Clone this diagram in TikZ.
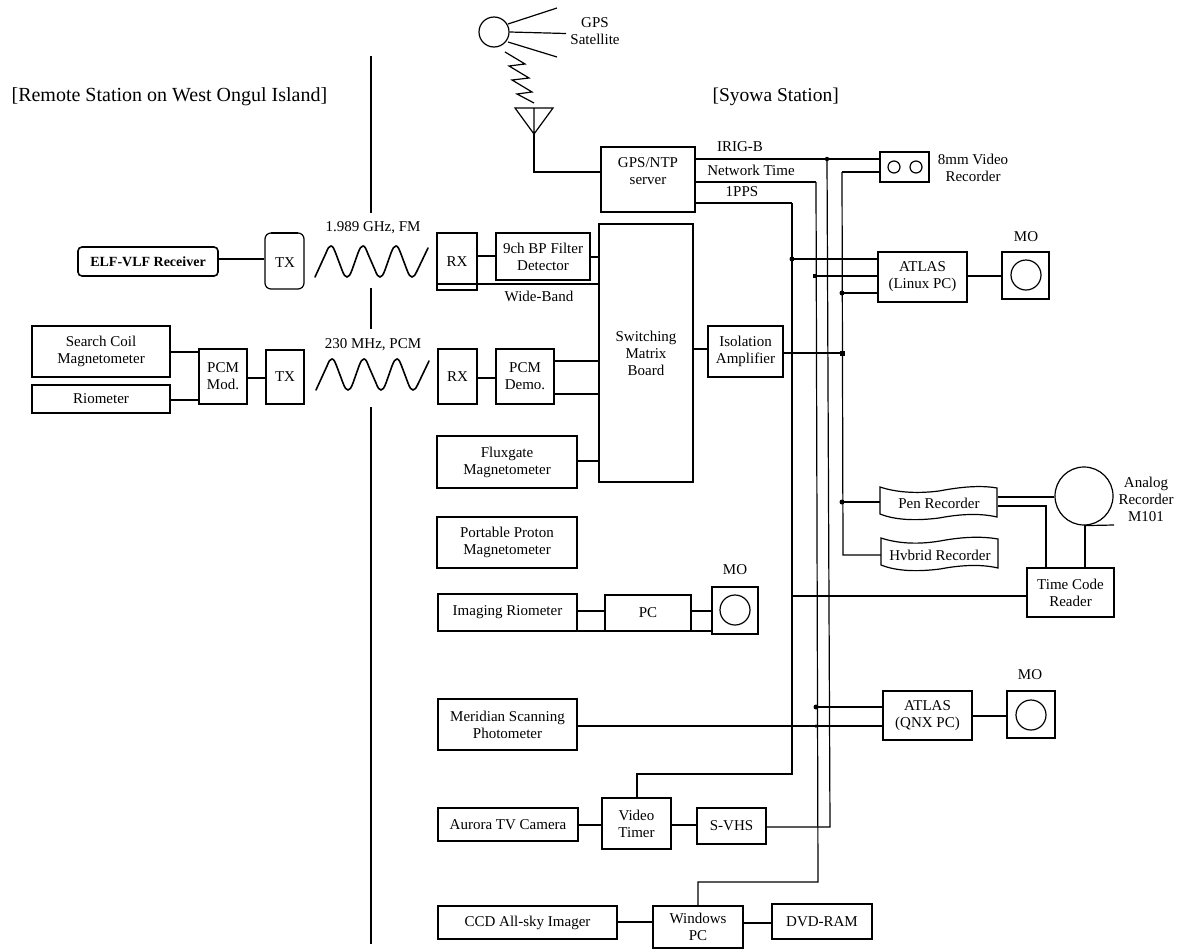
\documentclass[tikz,border=0pt]{standalone}
\usepackage{fontspec}
\setmainfont{Liberation Serif}
\tikzset{
  x=1pt,y=-1pt,
  every path/.style={line width=1.2pt,line join=miter},
  box/.style={draw,inner sep=0pt,align=center,font=\fontsize{15}{17}\selectfont},
  plain/.style={inner sep=0pt,align=center,font=\fontsize{15}{17}\selectfont},
  ttl/.style={inner sep=0pt,font=\fontsize{19.5}{22}\selectfont},
  dot/.style={circle,fill,inner sep=0pt,minimum size=5pt},
  wave/.style={draw,line width=1.6pt,line cap=round},
}
% \bx{name}{x1}{y1}{x2}{y2}{text}
\newcommand{\bx}[6]{%
  \pgfmathsetmacro{\bw}{#4-#2}\pgfmathsetmacro{\bh}{#5-#3}%
  \pgfmathsetmacro{\bcx}{(#2+#4)/2}\pgfmathsetmacro{\bcy}{(#3+#5)/2}%
  \node[box,minimum width=\bw pt,minimum height=\bh pt] (#1) at (\bcx,\bcy) {};%
  \ifx&#6&\else\node[plain] (#1t) at (\bcx,\bcy) {#6};\fi}
\newcommand{\sinewave}[2]{% start x, bottom y
  \begin{scope}[shift={(#1,#2)}]
  \draw[wave] (0,0)
    -- (11,-24) .. controls (13,-29) and (14,-31) .. (16,-31)
    .. controls (18,-31) and (19,-28) .. (21,-23)
    -- (27,-7) .. controls (29,-2) and (30,0) .. (32,0)
    .. controls (34,0) and (35,-2) .. (37,-7)
    -- (43,-24) .. controls (45,-29) and (46,-31) .. (48,-31)
    .. controls (50,-31) and (51,-28) .. (53,-23)
    -- (60,-7) .. controls (62,-2) and (63,0) .. (65,0)
    .. controls (67,0) and (68,-2) .. (70,-7)
    -- (76,-24) .. controls (78,-29) and (79,-31) .. (81,-31)
    .. controls (83,-31) and (84,-28) .. (86,-23)
    -- (92,-7) .. controls (94,-2) and (95,0) .. (97,0)
    .. controls (99,0) and (100,-2) .. (102,-6)
    -- (113,-29);
  \end{scope}}
\begin{document}
\begin{tikzpicture}
\useasboundingbox (0,0) rectangle (1178,948);
% titles
\node[ttl,anchor=west,font=\fontsize{20}{22}\selectfont] (tr) at (11,96.5) {[Remote Station on West Ongul Island]};
\node[ttl,anchor=west] (ts) at (712,96.5) {[Syowa Station]};
% divider
\coordinate (d1) at (371,56); \coordinate (d2) at (371,213);
\coordinate (d3) at (371,288); \coordinate (d4) at (371,329);
\coordinate (d5) at (371,407); \coordinate (d6) at (371,944);
\draw[line width=1.3pt] (d1)--(d2) (d3)--(d4) (d5)--(d6);
% satellite
\node[draw,circle,minimum size=30pt,inner sep=0pt] (sat) at (494,32) {};
\coordinate (r1) at (557,8); \coordinate (r2) at (566,33.5); \coordinate (r3) at (557,57);
\draw (508,24)--(r1) (sat.east)--(r2) (508,42)--(r3);
\node[plain] (gpsl) at (595,31.5) {GPS\\Satellite};
\draw (505,52)--(525,64)--(509,66)--(529,78)--(512,80)--(532,92)--(517,94)--(534,103);
\coordinate (ant) at (534,134);
\draw (515,108)--(553,108)--(ant)--cycle (534,108)--(ant);
% GPS server
\bx{gps}{601}{147}{695}{212}{}
\node[plain] (gpst) at (648,171) {GPS/NTP\\server};
\draw (ant)--(534,172)--(gps.west |- 0,172);
% bus wires
\coordinate (irigJ) at (827,159);
\coordinate (ntJ) at (816,182);
\coordinate (ppsJ) at (792,203);
\coordinate (aJ) at (842,172);
\node[plain] (l1) at (740,147) {IRIG-B};
\node[plain] (l2) at (751,170) {Network Time};
\node[plain] (l3) at (742,192) {1PPS};
% 8mm
\bx{vcr}{880}{152}{929}{182}{}
\node[draw,circle,minimum size=12pt,inner sep=0pt] (vc1) at (894,167) {};
\node[draw,circle,minimum size=12pt,inner sep=0pt] (vc2) at (916,167) {};
\node[plain] (vcl) at (973,168) {8mm Video\\Recorder};
\draw (gps.east |- irigJ)--(irigJ)--(vcr.west |- irigJ);
\draw (gps.east |- ntJ)--(ntJ);
\draw (gps.east |- ppsJ)--(ppsJ);
\draw (vcr.west |- aJ)--(aJ);
\node[dot,minimum size=4.5pt] at (irigJ) {};
% ATLAS Linux
\bx{atl}{878}{252}{967}{302}{ATLAS\\(Linux PC)}
\bx{mo1}{1002}{252}{1049}{299}{}
\node[draw,circle,minimum size=30pt,inner sep=0pt] (mo1c) at (1026,275) {};
\node[plain] (mo1l) at (1026,237) {MO};
\draw (atl.east |- 0,276)--(mo1.west |- 0,276);
\coordinate (j1) at (792,259); \coordinate (j2) at (815,276); \coordinate (j3) at (842,293);
\draw (j1)--(atl.west |- j1) (j2)--(atl.west |- j2) (j3)--(atl.west |- j3);
\node[dot] at (j1) {}; \node[dot,rectangle,minimum size=4.5pt] at (j2) {}; \node[dot] at (j3) {};
% Matrix
\bx{mx}{599}{224}{693}{482}{Switching\\Matrix\\Board}
% Isolation
\bx{iso}{708}{326}{783}{377}{Isolation\\Amplifier}
\coordinate (j4) at (842,353);
\draw (mx.east |- 0,349)--(iso.west |- 0,349);
\draw[line width=1.4pt] (iso.east |- j4)--(j4);
\node[dot,rectangle] at (j4) {};
% RX 1
\bx{rx1}{437}{233}{477}{290}{RX}
\bx{flt}{496}{233}{590}{280}{9ch BP Filter\\Detector}
\draw[line width=1.4pt] (rx1.east |- 0,256)--(flt.west |- 0,256);
\draw (flt.east |- 0,257)--(mx.west |- 0,257);
\draw[line width=1.5pt] (rx1.west |- 0,284)--(mx.west |- 0,284);
\node[plain] (wb) at (539,296) {Wide-Band};
% RX 2
\bx{rx2}{438}{349}{477}{404}{RX}
\bx{dem}{496}{349}{554}{404}{PCM\\Demo.}
\draw (rx2.east |- 0,378)--(dem.west |- 0,378);
\draw (dem.east |- 0,361)--(mx.west |- 0,361);
\draw (dem.east |- 0,394)--(mx.west |- 0,394);
% Fluxgate
\bx{flx}{437}{436}{577}{488}{Fluxgate\\Magnetometer}
\draw (flx.east |- 0,461)--(mx.west |- 0,461);
% Portable
\bx{ppm}{437}{517}{577}{568}{Portable Proton\\Magnetometer}
% Imaging
\bx{img}{438}{594}{577}{631}{Imaging Riometer}
\bx{pc}{605}{595}{691}{631}{PC}
\bx{mo2}{712}{587}{758}{634}{}
\node[draw,circle,minimum size=30pt,inner sep=0pt] (mo2c) at (735,610) {};
\node[plain] (mo2l) at (735,570) {MO};
\draw (img.east |- 0,611)--(pc.west |- 0,611);
\draw (pc.east |- 0,611)--(mo2.west |- 0,611);
\draw[line width=1.5pt] (img.east |- 0,631)--(mo2.west |- 0,631);
% Meridian
\bx{mer}{438}{699}{577}{750}{Meridian Scanning\\Photometer}
% ATLAS QNX
\bx{atq}{883}{691}{972}{740}{ATLAS\\(QNX PC)}
\bx{mo3}{1007}{691}{1055}{738}{}
\node[draw,circle,minimum size=30pt,inner sep=0pt] (mo3c) at (1031,715) {};
\node[plain] (mo3l) at (1030,675) {MO};
\draw (atq.east |- 0,716)--(mo3.west |- 0,716);
\coordinate (j5) at (816,707); \coordinate (j6) at (816,726);
\draw[line width=1.7pt] (j5)--(atq.west |- j5);
\draw[line width=1.7pt] (mer.east |- j6)--(atq.west |- j6);
\node[dot] at (j5) {}; \node[dot,minimum size=3.5pt] at (j6) {};
% Aurora
\bx{aur}{438}{808}{578}{841}{Aurora TV Camera}
\bx{vt}{602}{798}{671}{849}{Video\\Timer}
\bx{sv}{697}{808}{766}{844}{S-VHS}
\draw (aur.east |- 0,825)--(vt.west |- 0,825);
\draw (vt.east |- 0,825)--(sv.west |- 0,825);
% CCD
\bx{ccd}{438}{906}{617}{939}{CCD All-sky Imager}
\bx{win}{653}{906}{743}{948}{Windows\\PC}
\bx{dvd}{772}{904}{872}{939}{DVD-RAM}
\draw (ccd.east |- 0,922)--(win.west |- 0,922);
\draw (win.east |- 0,923)--(dvd.west |- 0,923);
% vertical buses
\draw (ppsJ)--(792,774)--(637,774)--(vt.north -| 637,0);
\draw (irigJ)--(830,827)--(sv.east |- 0,827);
\draw (ntJ)--(818,882)--(698,882)--(win.north -| 698,0);
% Recorders
\coordinate (j7) at (842,502);
\node[plain,minimum width=117pt,minimum height=30pt] (pen) at (939,503) {Pen Recorder};
\draw (880,487) .. controls (895,492) and (915,494) .. (939,491) .. controls (960,487) and (980,485) .. (997,488) -- (997,517)
  .. controls (980,513) and (960,514) .. (939,518) .. controls (915,521) and (895,520) .. (880,514) -- cycle;
\node[plain,minimum width=117pt,minimum height=30pt] (hyb) at (940,555) {Hvbrid Recorder};
\draw (881,538) .. controls (896,543) and (916,545) .. (940,541) .. controls (961,537) and (981,536) .. (998,539) -- (998,568)
  .. controls (981,564) and (961,565) .. (940,569) .. controls (916,572) and (896,571) .. (881,565) -- cycle;
\draw (aJ)--(843,555)--(hyb.west |- 0,555);
\draw (j7)--(pen.west |- j7);
\node[dot] at (j7) {};
% Analog
\node[draw,circle,minimum size=58pt,inner sep=0pt] (ana) at (1084,496) {};
\node[plain] (anl) at (1146,499) {Analog\\Recorder\\M101};
\coordinate (tang) at (1114,525);
\draw (ana.south)--(tang);
\bx{tcr}{1027}{568}{1114}{617}{Time Code\\Reader}
\draw (pen.east |- 0,497)--(ana.west |- 0,497);
\draw (pen.east |- 0,506)--(1046,506)--(tcr.north -| 1046,0);
\draw (ana.south -| 1085,0)--(tcr.north -| 1085,0);
\coordinate (j8) at (791,596);
\draw (j8)--(tcr.west |- j8);
% Left side
\node[draw,rounded corners=4pt,line width=1.6pt,minimum width=140pt,minimum height=29pt,inner sep=0pt,font=\fontsize{14}{17}\selectfont\bfseries] (elf) at (148,261.5) {ELF-VLF Receiver};
\node[draw,rounded corners=6pt,minimum width=39pt,minimum height=56pt,inner sep=0pt] (tx1) at (284.5,261) {};
\draw[line width=1.8pt] (271,233)--(298,233);
\node[plain] (tx1t) at (285,263) {TX};
\draw[line width=1.5pt] (elf.east |- 0,259)--(tx1.west |- 0,259);
\bx{scm}{32}{326}{170}{377}{Search Coil\\Magnetometer}
\bx{rio}{32}{385}{170}{413}{Riometer}
\bx{pcm}{199}{349}{247}{404}{PCM\\Mod.}
\bx{tx2}{266}{350}{304}{404}{TX}
\draw (scm.east |- 0,352)--(pcm.west |- 0,352);
\draw (rio.east |- 0,400)--(pcm.west |- 0,400);
\draw[line width=1.4pt] (pcm.east |- 0,378)--(tx2.west |- 0,378);
% waves
\node[plain] (w1l) at (373,228) {1.989 GHz, FM};
\sinewave{315}{277}
\node[plain] (w2l) at (373,345) {230 MHz, PCM};
\sinewave{316}{390}
\end{tikzpicture}
\end{document}
